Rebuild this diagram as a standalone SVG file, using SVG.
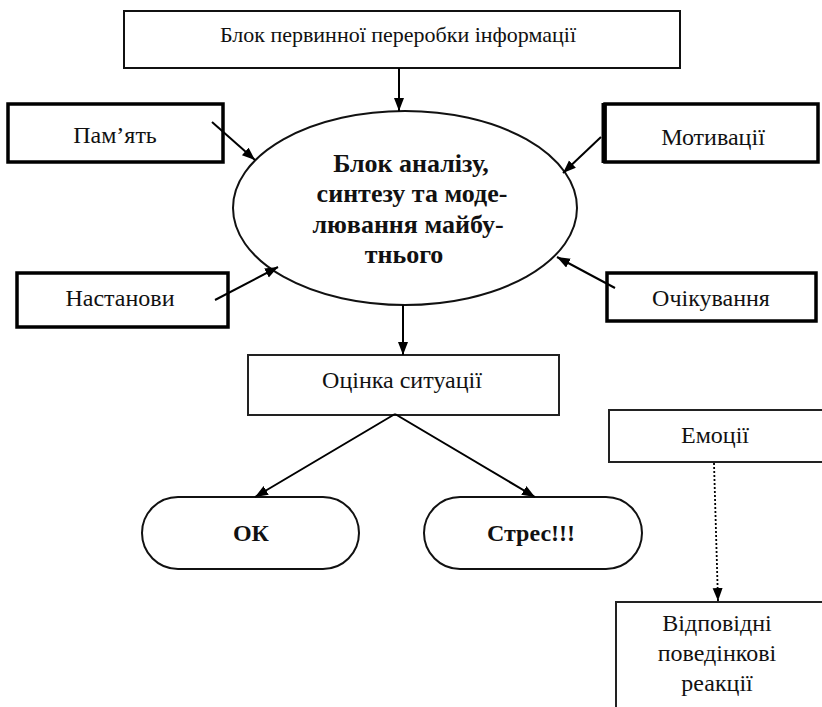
<svg xmlns="http://www.w3.org/2000/svg" width="822" height="707" viewBox="0 0 822 707">
<defs>
<marker id="ah" markerUnits="userSpaceOnUse" markerWidth="14" markerHeight="12" refX="13" refY="5" orient="auto">
<path d="M0,0 L13,5 L0,10 z" fill="#000"/>
</marker>
<style>
.t{font-family:"Liberation Serif","DejaVu Serif",serif;font-size:24px;fill:#111;text-anchor:middle}
.b{font-family:"Liberation Serif","DejaVu Serif",serif;font-size:26px;font-weight:bold;fill:#111;text-anchor:middle}
.thick{fill:#fff;stroke:#000;stroke-width:3.5}
.thin{fill:#fff;stroke:#222;stroke-width:2}
.mid{fill:#fff;stroke:#111;stroke-width:2}
.c{fill:none;stroke:#000;stroke-width:2;marker-end:url(#ah)}
.d{fill:none;stroke:#000;stroke-width:1.8;stroke-dasharray:2,2;marker-end:url(#ah)}
</style>
</defs>
<rect width="822" height="707" fill="#fff"/>

<g id="top">
<rect class="mid" x="124" y="11" width="556" height="57"/>
<text class="t" x="398" y="42" style="font-size:22px">Блок первинної переробки інформації</text>
</g>

<g id="analysis">
<ellipse class="mid" cx="405" cy="208" rx="172" ry="97"/>
<text class="b" x="411" y="172">Блок аналізу,</text>
<text class="b" x="412" y="202">синтезу та моде-</text>
<text class="b" x="408" y="233">лювання майбу-</text>
<text class="b" x="404" y="263">тнього</text>
</g>

<g id="memory">
<rect class="thick" x="8" y="104" width="215" height="58"/>
<text class="t" x="115" y="143">Пам’ять</text>
</g>

<g id="motivation">
<rect class="thick" x="605" y="104" width="213" height="58"/>
<line x1="604" y1="103" x2="604" y2="163" stroke="#000" stroke-width="5"/>
<text class="t" x="713" y="145">Мотивації</text>
</g>

<g id="attitudes">
<rect class="thick" x="17" y="273" width="211" height="54"/>
<text class="t" x="120" y="306">Настанови</text>
</g>

<g id="expectations">
<rect class="thick" x="607" y="273" width="209" height="48"/>
<text class="t" x="711" y="306">Очікування</text>
</g>

<g id="assessment">
<rect class="thin" x="248" y="355" width="311" height="60"/>
<text class="t" x="402" y="388">Оцінка ситуації</text>
</g>

<g id="ok">
<rect class="mid" x="142" y="497" width="217" height="72" rx="36" ry="36"/>
<text class="b" x="251" y="541" style="font-size:24px">ОК</text>
</g>

<g id="stress">
<rect class="mid" x="424" y="497" width="218" height="72" rx="36" ry="36"/>
<text class="b" x="531" y="541" style="font-size:24px">Стрес!!!</text>
</g>

<g id="emotions">
<rect class="thin" x="609" y="410" width="215" height="52"/>
<text class="t" x="715" y="443">Емоції</text>
</g>

<g id="reactions">
<rect class="thin" x="616" y="602" width="207" height="120"/>
<text class="t" x="717" y="631">Відповідні</text>
<text class="t" x="717" y="661">поведінкові</text>
<text class="t" x="717" y="691">реакції</text>
</g>

<g id="connectors">
<line class="c" x1="399" y1="68" x2="399" y2="111"/>
<line class="c" x1="212" y1="122" x2="255" y2="160"/>
<line class="c" x1="601" y1="137" x2="563" y2="173"/>
<line class="c" x1="215" y1="300" x2="278" y2="267"/>
<line class="c" x1="615" y1="288" x2="557" y2="257"/>
<line class="c" x1="403" y1="305" x2="403" y2="355"/>
<line class="c" x1="395" y1="414" x2="255" y2="497"/>
<line class="c" x1="395" y1="414" x2="535" y2="497"/>
<line class="d" x1="714" y1="463" x2="718" y2="601"/>
</g>
</svg>
